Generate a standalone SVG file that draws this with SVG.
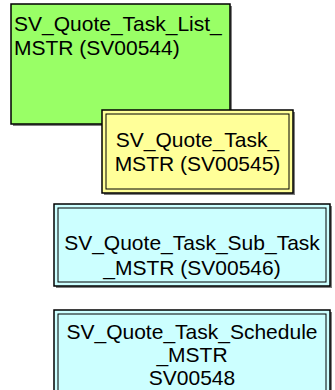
<svg xmlns="http://www.w3.org/2000/svg" width="335" height="390" viewBox="0 0 335 390">
<style>
text{font-family:"Liberation Sans",Arial,sans-serif;font-size:21px;fill:#000}
.c{text-anchor:middle}
.sh{fill:#808080}
.o{stroke:#000;stroke-width:1.5}
.i{fill:none;stroke:#000;stroke-width:1}
</style>
<rect width="335" height="390" fill="#fff"/>
<g id="connectors"></g>
<g id="n1">
<rect class="sh" x="13" y="6" width="219" height="120"/>
<rect class="o" x="11" y="4" width="219" height="120" fill="#99ff66"/>
<text x="14" y="31">SV_Quote_Task_List_</text>
<text x="14" y="55">MSTR (SV00544)</text>
</g>
<g id="n2">
<rect class="sh" x="104" y="112" width="191" height="83"/>
<rect class="o" x="102" y="110" width="191" height="83" fill="#ffff99"/>
<rect class="i" x="106" y="114" width="183" height="75"/>
<text class="c" x="197.5" y="147">SV_Quote_Task_</text>
<text class="c" x="197.5" y="171">MSTR (SV00545)</text>
</g>
<g id="n3">
<rect class="sh" x="56" y="206" width="276" height="82"/>
<rect class="o" x="54" y="204" width="276" height="82" fill="#ccffff"/>
<rect class="i" x="58" y="208" width="268" height="74"/>
<text class="c" x="192" y="250">SV_Quote_Task_Sub_Task</text>
<text class="c" x="192" y="275">_MSTR (SV00546)</text>
</g>
<g id="n4">
<rect class="sh" x="56" y="312" width="276" height="90"/>
<rect class="o" x="54" y="310" width="276" height="90" fill="#ccffff"/>
<rect class="i" x="58" y="314" width="268" height="82"/>
<text class="c" x="192" y="339">SV_Quote_Task_Schedule</text>
<text class="c" x="192" y="362">_MSTR</text>
<text class="c" x="192" y="385">SV00548</text>
</g>
</svg>
